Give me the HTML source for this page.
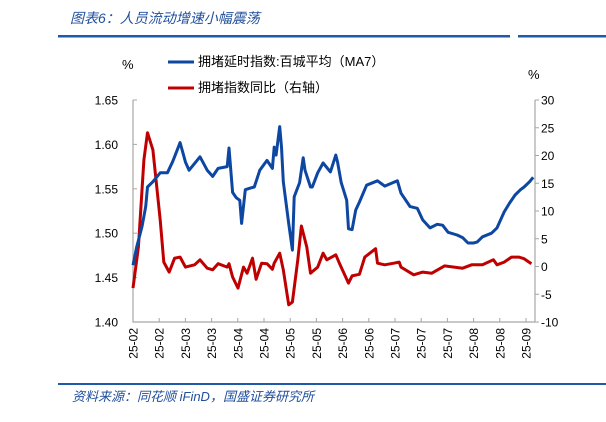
<!DOCTYPE html>
<html><head><meta charset="utf-8">
<style>
body{margin:0;background:#fff;width:606px;height:417px;overflow:hidden;font-family:"Liberation Sans","Noto Sans CJK SC",sans-serif;}
</style></head>
<body>
<svg id="chart" width="606" height="417" xmlns="http://www.w3.org/2000/svg" font-family="Liberation Sans, Noto Sans CJK SC, sans-serif">
<text x="70" y="23" font-size="14" font-style="italic" fill="#1f4e9c">图表6：人员流动增速小幅震荡</text>
<rect x="58" y="35" width="452" height="2.5" fill="#1f5aa8"/>
<rect x="518" y="35" width="88" height="2.5" fill="#1f5aa8"/>
<rect x="58" y="383" width="548" height="2" fill="#1f5aa8"/>
<text x="72" y="401" font-size="13" font-style="italic" fill="#1f4e9c">资料来源：同花顺 iFinD，国盛证券研究所</text>
<text x="122" y="69" font-size="13">%</text>
<text x="528" y="79" font-size="13">%</text>
<line x1="168" y1="62" x2="194" y2="62" stroke="#0d47a1" stroke-width="3"/>
<text x="198" y="66" font-size="13">拥堵延时指数:百城平均（MA7）</text>
<line x1="168" y1="88" x2="194" y2="88" stroke="#c00000" stroke-width="3"/>
<text x="198" y="92" font-size="13">拥堵指数同比（右轴）</text>
<g id="axes"></g>
<g id="series"></g>
</svg>
<script>
const dates=["25-02","25-02","25-03","25-03","25-04","25-04","25-05","25-05","25-06","25-06","25-07","25-07","25-07","25-08","25-08","25-09"];
const leftTicks=[1.40,1.45,1.50,1.55,1.60,1.65];
const rightTicks=[-10,-5,0,5,10,15,20,25,30];
const blueDays=[0,2,5,7,8,11,15,19,22,26,29,31,37,41,44,47,52,53,55,57,59,60,62,65,67,70,74,77,78,79,81,82,83,86,88,89,92,94,95,98,99,102,105,109,112,113,115,118,119,121,123,125,129,135,139,146,148,153,157,160,164,168,171,174,179,182,185,188,190,193,198,201,205,208,211,214,216,219,221];
const blueVals=[1.464,1.484,1.508,1.530,1.552,1.558,1.568,1.568,1.581,1.602,1.580,1.571,1.586,1.571,1.564,1.573,1.575,1.596,1.546,1.540,1.537,1.511,1.549,1.551,1.552,1.571,1.582,1.573,1.597,1.588,1.620,1.597,1.558,1.511,1.481,1.541,1.557,1.585,1.571,1.552,1.552,1.568,1.579,1.569,1.588,1.580,1.557,1.537,1.505,1.504,1.526,1.535,1.554,1.559,1.553,1.559,1.545,1.530,1.528,1.515,1.506,1.510,1.509,1.501,1.498,1.495,1.489,1.489,1.490,1.496,1.500,1.506,1.524,1.534,1.543,1.549,1.552,1.558,1.563];
const redDays=[0,3,6,8,11,15,17,20,23,26,29,34,37,41,44,47,52,53,55,58,61,63,66,68,71,74,77,78,81,83,86,88,91,93,96,98,102,105,107,112,114,119,121,125,128,134,135,139,144,147,148,155,160,165,172,182,187,193,199,201,205,209,213,216,220];
const redVals=[-3.9,3.5,19.2,24.1,21.0,8.4,0.8,-1.0,1.5,1.7,-0.1,0.3,1.2,-0.3,-0.6,0.5,-0.1,0.5,-1.9,-3.9,-0.1,-1.2,1.5,-2.3,0.6,0.5,-0.5,0.6,2.4,-0.6,-6.9,-6.4,1.2,7.3,3.5,-1.2,-0.1,2.4,1.2,2.1,0.6,-3.0,-1.7,-1.4,1.7,3.2,0.6,0.3,0.6,0.8,-0.1,-1.5,-1.0,-1.2,0.1,-0.3,0.3,0.3,1.2,0.3,0.8,1.7,1.7,1.4,0.5];
const X0=133,X1=535,Y0=100,Y1=322,DAYSPAN=222;
const xScale=d=>X0+d/DAYSPAN*(X1-X0);
const yL=v=>Y1-(v-1.40)/0.25*(Y1-Y0);
const yR=v=>Y1-(v+10)/40*(Y1-Y0);
const NS="http://www.w3.org/2000/svg";
const axes=document.getElementById('axes'),series=document.getElementById('series');
function mk(tag,attrs,parent){const e=document.createElementNS(NS,tag);for(const k in attrs)e.setAttribute(k,attrs[k]);parent.appendChild(e);return e;}
let e;
e=mk('path',{d:`M${X0},${Y0}V${Y1}H${X1}V${Y0}`,fill:'none',stroke:'#a6a6a6','stroke-width':1.2},axes);


leftTicks.forEach(v=>{
 const y=yL(v);
 e=mk('line',{x1:X0,x2:X0+4,y1:y,y2:y,stroke:'#a6a6a6'},axes);
 
 
 e=mk('text',{x:118,y:y+4.5,'font-size':12,'text-anchor':'end'},axes);e.textContent=v.toFixed(2);
 
 
});
rightTicks.forEach(v=>{
 const y=yR(v);
 e=mk('line',{x1:X1,x2:X1+4,y1:y,y2:y,stroke:'#a6a6a6'},axes);
 
 
 e=mk('text',{x:541,y:y+4.5,'font-size':12},axes);e.textContent=v;
 
 
});
const step=(X1-X0-9)/(dates.length-1);
dates.forEach((d,i)=>{
 const x=X0+i*step;
 e=mk('line',{x1:x,x2:x,y1:Y1,y2:Y1-4,stroke:'#a6a6a6'},axes);
 
 
 e=mk('text',{x:0,y:0,'font-size':12,'text-anchor':'end',transform:`translate(${x+4.5},328) rotate(-90)`},axes);e.textContent=d;
 
 
});
function line(days,vals,ys,color,name){
 const d=days.map((dd,i)=>(i?'L':'M')+xScale(dd).toFixed(1)+','+ys(vals[i]).toFixed(1)).join('');
 const p=mk('path',{d,fill:'none',stroke:color,'stroke-width':3,'stroke-linejoin':'round'},series);
 
 
}
line(redDays,redVals,yR,'#c00000','series-congestion-yoy');
line(blueDays,blueVals,yL,'#0d47a1','series-congestion-delay-ma7');
</script>
</body></html>
